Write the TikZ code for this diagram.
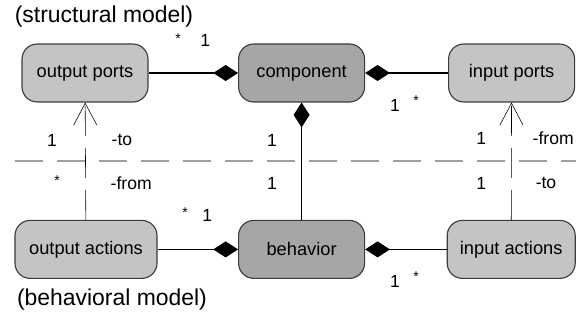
\documentclass[tikz,border=0pt]{standalone}
\usepackage{fontspec}
\setmainfont{Liberation Sans}
\usepackage{tikz}
\usetikzlibrary{arrows.meta}
\usepackage{xcolor}
\definecolor{boxlight}{HTML}{C4C4C4}
\definecolor{boxdark}{HTML}{A6A6A6}
\definecolor{boxline}{HTML}{3C3C3C}

\begin{document}
\begin{tikzpicture}[
    model/.style={draw=boxline, thick, rounded corners=0.38cm, fill=boxlight, minimum width=3.15cm, minimum height=1.45cm, font=\fontsize{13}{15}\selectfont},
    core/.style={model, fill=boxdark},
    mult/.style={inner sep=0pt, font=\fontsize{12.5}{14}\selectfont},
    many/.style={mult, font=\fontsize{10}{12}\selectfont},
    comp/.style={thick, {Diamond[length=0.62cm,width=0.4cm]}-},
    realize/.style={thin, dash pattern=on 0.75cm off 0.3cm, -{Straight Barb[length=0.55cm,width=0.58cm]}}
]
            \useasboundingbox (0,0) rectangle (14.4,8.025);
            % structural model
            \node[model] (outports) at (2.125,6.2) {output ports};
            \node[core] (component) at (7.54,6.2) {component};
            \node[model] (inports) at (12.79,6.2) {input ports};
            % behavioral model
            \node[model, minimum width=3.55cm] (outactions) at (2.15,1.79) {output actions};
            \node[core] (behavior) at (7.54,1.79) {behavior};
            \node[model, minimum width=3.2cm] (inactions) at (12.78,1.79) {input actions};

            \node[font=\fontsize{16.3}{18}\selectfont, inner sep=0pt] (structural) at (2.6,7.6) {(structural model)};
            \node[font=\fontsize{16.3}{18}\selectfont, inner sep=0pt] (behavioral) at (2.8,0.525) {(behavioral model)};

            % separator
            \draw[line width=2pt, gray!75, dash pattern=on 0.7cm off 0.35cm] (0.375,4.0) -- (14.4,4.0);

            \draw[comp] (component) -- (outports);
            \draw[comp] (component) -- (inports);
            \draw[comp] (component) -- (behavior);
            \draw[comp] (behavior) -- (outactions);
            \draw[comp] (behavior) -- (inactions);
            \draw[realize] (outactions) -- (outports);
            \draw[realize] (inactions) -- (inports);

            % multiplicities and roles
            \node[many] (m1) at (4.45,7.05) {*};
            \node[mult] (m2) at (5.13,7.02) {1};
            \node[mult] (m3) at (9.875,5.4) {1};
            \node[many] (m4) at (10.4,5.5) {*};
            \node[mult] (m5) at (1.3,4.525) {1};
            \node[mult] (r1) at (3.05,4.525) {-to};
            \node[mult] (m6) at (6.8,4.525) {1};
            \node[mult] (m7) at (12.03,4.575) {1};
            \node[mult] (r2) at (13.83,4.575) {-from};
            \node[many] (m8) at (1.43,3.52) {*};
            \node[mult] (r3) at (3.28,3.45) {-from};
            \node[mult] (m9) at (6.8,3.45) {1};
            \node[mult] (m10) at (12.03,3.45) {1};
            \node[mult] (r4) at (13.65,3.45) {-to};
            \node[many] (m11) at (4.63,2.72) {*};
            \node[mult] (m12) at (5.18,2.63) {1};
            \node[mult] (m13) at (9.875,1.0) {1};
            \node[many] (m14) at (10.4,1.1) {*};
        \end{tikzpicture}
\end{document}
